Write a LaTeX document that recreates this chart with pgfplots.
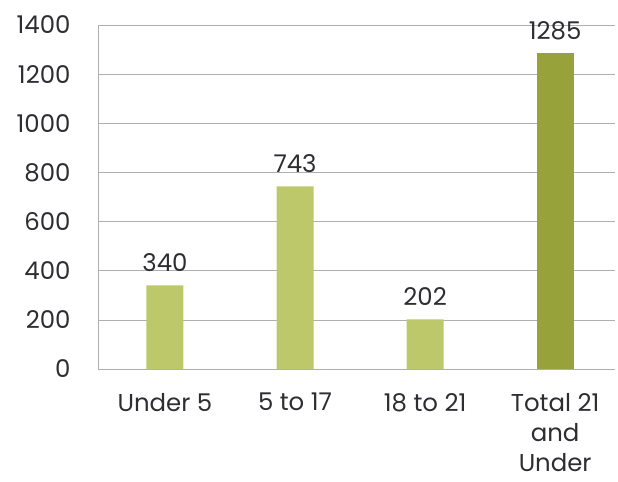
\documentclass[border=0pt]{standalone}
\usepackage{pgfplots}
\pgfplotsset{compat=1.18}
\usepackage{fontspec}
\setmainfont{Poppins}
\definecolor{lightbar}{RGB}{188,200,106}
\definecolor{darkbar}{RGB}{152,162,58}
\definecolor{txt}{RGB}{45,45,50}
\definecolor{gridc}{RGB}{175,175,175}
\begin{document}
\begin{tikzpicture}
\begin{axis}[
  at={(0,0)}, anchor=south west,
  scale only axis,
  width=517bp, height=344bp,
  xmin=-0.515, xmax=3.46,
  ymin=0, ymax=1400,
  ytick={0,200,...,1400},
  xtick={0,1,2,3},
  xticklabels={Under 5,5 to 17,18 to 21,{Total 21\\and\\Under}},
  x tick label style={align=center, font=\fontsize{24.5}{30}\selectfont, text=txt, inner sep=0pt, yshift=-24bp},
  y tick label style={font=\fontsize{24.5}{26}\selectfont, text=txt, xshift=-24bp},
  /pgf/number format/assume math mode=true,
  /pgf/number format/1000 sep={},
  axis x line*=bottom, axis y line*=left,
  axis line style={gridc, -},
  major tick length=0pt,
  ymajorgrids, grid style={gridc, line width=0.6pt},
  ybar, bar width=37bp,
  nodes near coords,
  every node near coord/.append style={font=\fontsize{24.5}{26}\selectfont, text=txt, yshift=10bp},
  clip=false,
]
\addplot[fill=lightbar, draw=none, bar shift=0pt] coordinates {(0,340) (1,743) (2,202)};
\addplot[fill=darkbar, draw=none, bar shift=0pt] coordinates {(3,1285)};
\end{axis}
\pgfresetboundingbox
\useasboundingbox (-98bp,-113bp) rectangle (520bp,369bp);
\end{tikzpicture}
\end{document}
